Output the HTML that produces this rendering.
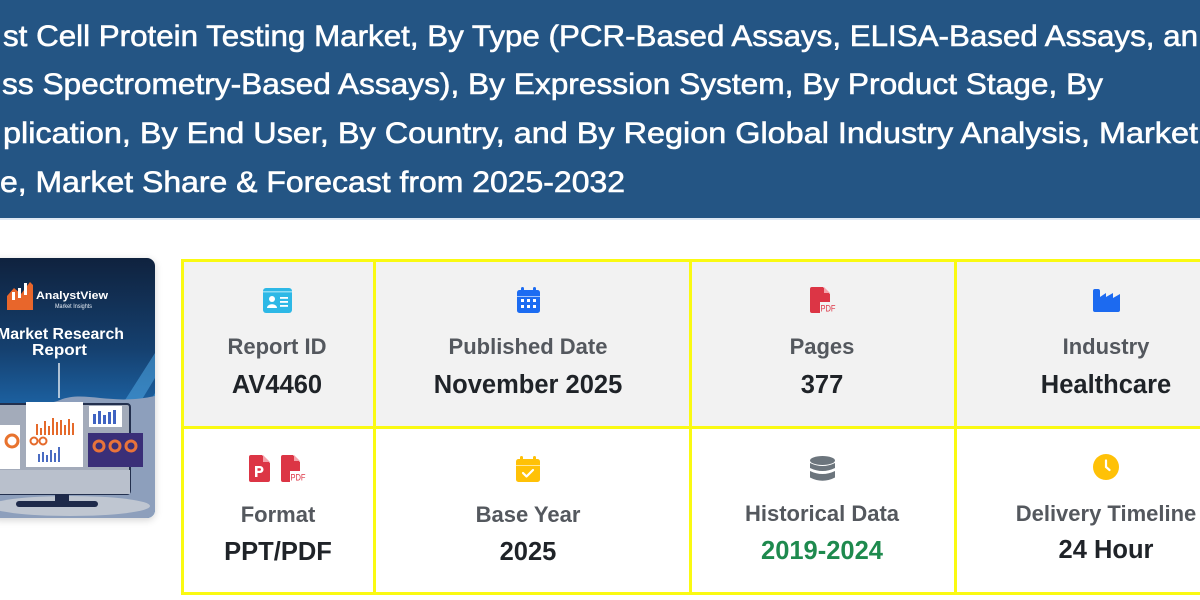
<!DOCTYPE html>
<html><head><meta charset="utf-8">
<style>
html,body{margin:0;padding:0;}
body{width:1200px;height:600px;overflow:hidden;position:relative;background:#fff;font-family:"Liberation Sans",Arial,sans-serif;}
.abs{position:absolute;}
.hl{position:absolute;background:#fafa12;}
.lab{position:absolute;width:300px;text-align:center;font-weight:bold;font-size:22px;color:#54585e;line-height:1;}
.val{position:absolute;width:300px;text-align:center;font-weight:bold;font-size:25.5px;color:#1f2328;line-height:1;}
</style></head><body>

<svg class="abs" style="left:0;top:0" width="1200" height="221">
  <rect x="0" y="0" width="1200" height="218" fill="#245584"/>
  <rect x="0" y="218" width="1200" height="2" fill="#dfe8f3"/>
  <g fill="#ffffff" stroke="#ffffff" stroke-width="0.6" font-family="Liberation Sans, Arial, sans-serif" font-size="30">
    <text x="3" y="46" textLength="1195" lengthAdjust="spacingAndGlyphs">st Cell Protein Testing Market, By Type (PCR-Based Assays, ELISA-Based Assays, an</text>
    <text x="2" y="94" textLength="1101" lengthAdjust="spacingAndGlyphs">ss Spectrometry-Based Assays), By Expression System, By Product Stage, By</text>
    <text x="3" y="143" textLength="1195" lengthAdjust="spacingAndGlyphs">plication, By End User, By Country, and By Region Global Industry Analysis, Market</text>
    <text x="0" y="192" textLength="625" lengthAdjust="spacingAndGlyphs">e, Market Share &amp; Forecast from 2025-2032</text>
  </g>
</svg>

<!-- report cover image -->
<div class="abs" style="left:-10px;top:258px;width:165px;height:260px;border-radius:8px;box-shadow:0 2px 8px rgba(0,0,0,0.18);overflow:hidden;">
<svg width="165" height="260" viewBox="-10 0 165 260">
  <defs>
    <linearGradient id="bg" x1="0" y1="0" x2="0" y2="1">
      <stop offset="0" stop-color="#0f223e"/>
      <stop offset="0.35" stop-color="#15406f"/>
      <stop offset="0.6" stop-color="#1d66a9"/>
      <stop offset="1" stop-color="#2b7fc2"/>
    </linearGradient>
  </defs>
  <rect x="-10" y="0" width="165" height="260" fill="url(#bg)"/>
  <g fill="#4fa6e2" opacity="0.55">
    <polygon points="155,95 155,120 70,260 50,260"/>
    <polygon points="155,135 155,150 95,260 82,260"/>
    <polygon points="155,165 155,185 120,260 105,260"/>
  </g>
  <path d="M-10,150 C20,140 40,150 60,142 C85,132 110,148 155,138 L155,260 L-10,260 Z" fill="#8d9fbc"/>
  <ellipse cx="70" cy="248" rx="80" ry="10" fill="#bfc6d1"/>
  <rect x="-12" y="146" width="142" height="90" rx="3" fill="#a3abba" stroke="#23304e" stroke-width="2"/>
  <rect x="-12" y="212" width="142" height="24" fill="#b9c0cc"/>
  <rect x="55" y="236" width="14" height="8" fill="#1e2a4a"/>
  <rect x="16" y="243" width="82" height="6" rx="3" fill="#1e2a4a"/>
  <rect x="-10" y="167" width="30" height="44" fill="#ffffff"/>
  <circle cx="12" cy="183" r="6" fill="none" stroke="#e8732e" stroke-width="3"/>
  <rect x="26" y="144" width="57" height="65" fill="#ffffff"/>
  <g fill="#e56a2b">
    <rect x="36" y="166" width="2" height="11"/><rect x="40" y="170" width="2" height="7"/>
    <rect x="44" y="163" width="2" height="14"/><rect x="48" y="168" width="2" height="9"/>
    <rect x="52" y="160" width="2" height="17"/><rect x="56" y="164" width="2" height="13"/>
    <rect x="60" y="162" width="2" height="15"/><rect x="64" y="167" width="2" height="10"/>
    <rect x="68" y="161" width="2" height="16"/><rect x="72" y="165" width="2" height="12"/>
  </g>
  <circle cx="34" cy="183" r="3.5" fill="none" stroke="#e56a2b" stroke-width="2"/>
  <circle cx="43" cy="183" r="3.5" fill="none" stroke="#e56a2b" stroke-width="2"/>
  <g fill="#4a6cc2">
    <rect x="38" y="196" width="2" height="8"/><rect x="42" y="194" width="2" height="10"/>
    <rect x="46" y="197" width="2" height="7"/><rect x="50" y="192" width="2" height="12"/>
    <rect x="54" y="195" width="2" height="9"/><rect x="58" y="189" width="2" height="15"/>
  </g>
  <rect x="89" y="148" width="33" height="21" fill="#ffffff"/>
  <g fill="#3f63c2"><rect x="93" y="156" width="3" height="10"/><rect x="98" y="153" width="3" height="13"/><rect x="103" y="157" width="3" height="9"/><rect x="108" y="154" width="3" height="12"/><rect x="113" y="152" width="3" height="14"/></g>
  <rect x="88" y="175" width="55" height="34" fill="#3a2f78"/>
  <circle cx="99" cy="188" r="5" fill="none" stroke="#e9733a" stroke-width="3"/>
  <circle cx="115" cy="188" r="5" fill="none" stroke="#e9733a" stroke-width="3"/>
  <circle cx="131" cy="188" r="5" fill="none" stroke="#e9733a" stroke-width="3"/>
  <line x1="59" y1="105" x2="59" y2="140" stroke="#ffffff" stroke-width="1.3"/>
  <polygon points="7,38 14,30 21,36 30,24 33,27 33,52 7,52" fill="#e8662b"/>
  <g fill="#ffffff"><rect x="12" y="34" width="3" height="8"/><rect x="18" y="30" width="3" height="10"/><rect x="24" y="25" width="3" height="12"/></g>
  <text x="36" y="41" fill="#fff" font-weight="bold" font-size="11" textLength="72" lengthAdjust="spacingAndGlyphs" font-family="Liberation Sans, Arial, sans-serif">AnalystView</text>
  <text x="55" y="50" fill="#e8eef7" font-size="6.5" textLength="37" lengthAdjust="spacingAndGlyphs" font-family="Liberation Sans, Arial, sans-serif">Market Insights</text>
  <text x="-3" y="81" fill="#fff" font-weight="bold" font-size="15.5" textLength="127" lengthAdjust="spacingAndGlyphs" font-family="Liberation Sans, Arial, sans-serif">Market Research</text>
  <text x="32" y="97" fill="#fff" font-weight="bold" font-size="15.5" textLength="55" lengthAdjust="spacingAndGlyphs" font-family="Liberation Sans, Arial, sans-serif">Report</text>
</svg>
</div>

<div class="abs" style="left:182px;top:259px;width:1100px;height:168px;background:#f2f2f2;"></div>
<div class="abs" style="left:182px;top:427px;width:1100px;height:166px;background:#ffffff;"></div>

<div class="hl" style="left:181px;top:259px;width:1100px;height:3px;"></div>
<div class="hl" style="left:181px;top:426px;width:1100px;height:3px;"></div>
<div class="hl" style="left:181px;top:592px;width:1100px;height:3px;"></div>
<div class="hl" style="left:181px;top:259px;width:3px;height:336px;"></div>
<div class="hl" style="left:373px;top:259px;width:3px;height:336px;"></div>
<div class="hl" style="left:689px;top:259px;width:3px;height:336px;"></div>
<div class="hl" style="left:954px;top:259px;width:3px;height:336px;"></div>

<svg class="abs" style="left:263px;top:288px" width="29" height="25" viewBox="0 0 29 25">
  <rect x="0" y="0" width="29" height="25" rx="3" fill="#2db8e6"/>
  <rect x="0" y="3" width="29" height="1.5" fill="#8fdcf4"/>
  <circle cx="9" cy="11" r="3" fill="#fff"/>
  <path d="M4,20 C4,15 14,15 14,20 Z" fill="#fff"/>
  <rect x="17" y="9" width="8" height="1.8" fill="#fff"/>
  <rect x="17" y="13" width="8" height="1.8" fill="#fff"/>
  <rect x="17" y="17" width="8" height="1.8" fill="#fff"/>
</svg>
<svg class="abs" style="left:517px;top:287px" width="23" height="26" viewBox="0 0 23 26">
  <rect x="4" y="0" width="3" height="6" rx="1.5" fill="#1c6cf2"/>
  <rect x="16" y="0" width="3" height="6" rx="1.5" fill="#1c6cf2"/>
  <rect x="0" y="3" width="23" height="23" rx="2.5" fill="#1c6cf2"/>
  <rect x="0" y="9" width="23" height="1" fill="#ffffff" opacity="0.6"/>
  <g fill="#fff"><rect x="4" y="12" width="3" height="3"/><rect x="10" y="12" width="3" height="3"/><rect x="16" y="12" width="3" height="3"/>
  <rect x="4" y="18" width="3" height="3"/><rect x="10" y="18" width="3" height="3"/><rect x="16" y="18" width="3" height="3"/></g>
</svg>
<svg class="abs" style="left:810px;top:287px" width="26" height="26" viewBox="0 0 26 26">
  <path d="M2,0 H13 L20,7 V15 H10 V26 H2 A2,2 0 0 1 0,24 V2 A2,2 0 0 1 2,0 Z" fill="#dc3545"/>
  <path d="M14,0 L20,6 H14 Z" fill="#f4a3ab"/>
  <text x="10.5" y="24.5" font-size="9.5" font-family="Liberation Sans, Arial, sans-serif" fill="#dc3545" textLength="15" lengthAdjust="spacingAndGlyphs">PDF</text>
</svg>
<svg class="abs" style="left:1093px;top:289px" width="27" height="23" viewBox="0 0 27 23">
  <path d="M0,2 Q0,0 2,0 H5 Q7,0 7,2 V8 L13,4 V8 L20,4 V9 L27,5 V21 Q27,23 25,23 H2 Q0,23 0,21 Z" fill="#1c6af0"/>
</svg>

<svg class="abs" style="left:249px;top:455px" width="21" height="27" viewBox="0 0 21 27">
  <path d="M2,0 H13 L21,8 V25 A2,2 0 0 1 19,27 H2 A2,2 0 0 1 0,25 V2 A2,2 0 0 1 2,0 Z" fill="#dc3545"/>
  <path d="M14,0 L21,7 H14 Z" fill="#f4a3ab"/>
  <path d="M6,11 H11 A3.5,3.5 0 0 1 11,18 H8.5 V22 H6 Z M8.5,13.3 V15.7 H10.8 A1.2,1.2 0 0 0 10.8,13.3 Z" fill="#fff"/>
</svg>
<svg class="abs" style="left:281px;top:455px" width="25" height="27" viewBox="0 0 25 27">
  <path d="M2,0 H12 L19,7 V16 H9 V27 H2 A2,2 0 0 1 0,25 V2 A2,2 0 0 1 2,0 Z" fill="#dc3545"/>
  <path d="M13,0 L19,6 H13 Z" fill="#f4a3ab"/>
  <text x="9.5" y="25.5" font-size="9.5" font-family="Liberation Sans, Arial, sans-serif" fill="#dc3545" textLength="15" lengthAdjust="spacingAndGlyphs">PDF</text>
</svg>
<svg class="abs" style="left:516px;top:456px" width="24" height="26" viewBox="0 0 24 26">
  <rect x="4" y="0" width="3" height="6" rx="1.5" fill="#ffc107"/>
  <rect x="17" y="0" width="3" height="6" rx="1.5" fill="#ffc107"/>
  <rect x="0" y="3" width="24" height="23" rx="2.5" fill="#ffc107"/>
  <rect x="0" y="9" width="24" height="1" fill="#fff" opacity="0.6"/>
  <path d="M7,17 L10.5,20.5 L17,14" fill="none" stroke="#fff" stroke-width="2.2" stroke-linecap="round" stroke-linejoin="round"/>
</svg>
<svg class="abs" style="left:810px;top:456px" width="25" height="26" viewBox="0 0 25 26">
  <ellipse cx="12.5" cy="4.5" rx="12.5" ry="4.5" fill="#6c757d"/>
  <path d="M0,7 Q12.5,13 25,7 V12 Q12.5,18 0,12 Z" fill="#6c757d"/>
  <path d="M0,15 Q12.5,21 25,15 V21.5 Q12.5,28 0,21.5 Z" fill="#6c757d"/>
</svg>
<svg class="abs" style="left:1093px;top:454px" width="26" height="26" viewBox="0 0 26 26">
  <circle cx="13" cy="13" r="13" fill="#ffc107"/>
  <path d="M13,6.5 V13 L16.5,16" fill="none" stroke="#fff" stroke-width="2.2" stroke-linecap="round"/>
</svg>

<div class="lab" style="left:127px;top:336px;">Report ID</div>
<div class="val" style="left:127px;top:373px;">AV4460</div>
<div class="lab" style="left:378px;top:336px;">Published Date</div>
<div class="val" style="left:378px;top:373px;">November 2025</div>
<div class="lab" style="left:672px;top:336px;">Pages</div>
<div class="val" style="left:672px;top:373px;">377</div>
<div class="lab" style="left:956px;top:336px;">Industry</div>
<div class="val" style="left:956px;top:373px;">Healthcare</div>

<div class="lab" style="left:128px;top:504px;">Format</div>
<div class="val" style="left:128px;top:540px;">PPT/PDF</div>
<div class="lab" style="left:378px;top:504px;">Base Year</div>
<div class="val" style="left:378px;top:540px;">2025</div>
<div class="lab" style="left:672px;top:503px;">Historical Data</div>
<div class="val" style="left:672px;top:539px;color:#1e8a4e;">2019-2024</div>
<div class="lab" style="left:956px;top:503px;">Delivery Timeline</div>
<div class="val" style="left:956px;top:538px;">24 Hour</div>

</body></html>
